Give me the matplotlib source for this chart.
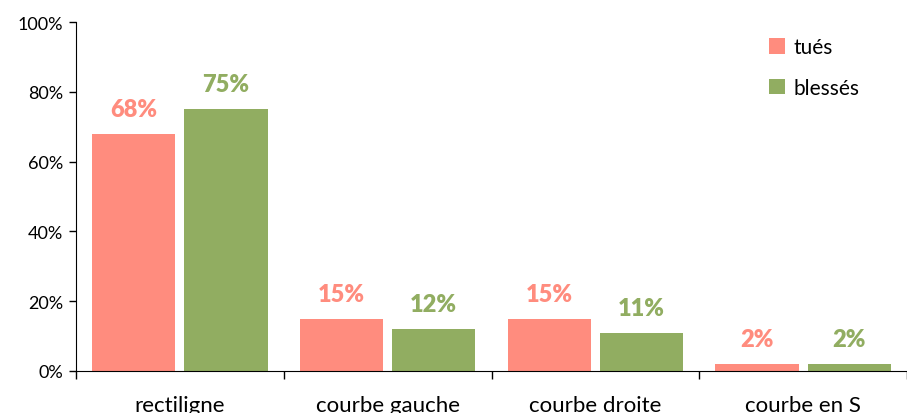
import numpy as np
import matplotlib
matplotlib.use('Agg')
import matplotlib.pyplot as plt
from matplotlib.ticker import FixedLocator, FuncFormatter

categories = ['rectiligne', 'courbe gauche', 'courbe droite', 'courbe en S']
tues = [68, 15, 15, 2]
blesses = [75, 12, 11, 2]

col_tues = '#FF8C7E'
col_blesses = '#91AD61'

plt.rcParams['font.family'] = ['Lato', 'DejaVu Sans']

fig = plt.figure(figsize=(9.07, 4.14), dpi=100)
ax = fig.add_axes([76 / 907, 42 / 414, 1 - 76 / 907, 349 / 414])

x = np.arange(len(categories))
w = 0.4
off = 0.222
b1 = ax.bar(x - off, tues, w, color=col_tues, label='tués')
b2 = ax.bar(x + off, blesses, w, color=col_blesses, label='blessés')

for bars, vals, c in [(b1, tues, col_tues), (b2, blesses, col_blesses)]:
    for r, v in zip(bars, vals):
        ax.annotate(f'{v}%', (r.get_x() + r.get_width() / 2, v),
                    xytext=(0, 18), textcoords='offset points',
                    ha='center', va='center', color=c,
                    fontsize=17, fontweight='heavy')

ax.set_ylim(0, 100)
ax.set_xlim(-0.5, 3.476)
ax.yaxis.set_major_locator(FixedLocator([0, 20, 40, 60, 80, 100]))
ax.yaxis.set_major_formatter(FuncFormatter(lambda v, p: f'{v:.0f}%'))
ax.tick_params(axis='y', labelsize=13, length=5, width=1, pad=4)

ax.set_xticks(np.arange(len(categories) + 1) - 0.5)
ax.set_xticklabels([])
ax.set_xticks(x, minor=True)
ax.set_xticklabels(categories, minor=True)
ax.tick_params(axis='x', which='major', length=6, width=1)
ax.tick_params(axis='x', which='minor', length=0, labelsize=16, pad=17)

for s in ['top', 'right']:
    ax.spines[s].set_visible(False)

ax.legend(loc='upper right', bbox_to_anchor=(0.965, 1.01), frameon=False,
          fontsize=15, handlelength=0.75, handleheight=0.75,
          handletextpad=0.4, labelspacing=1.0)

fig.savefig('out.png', dpi=100)
